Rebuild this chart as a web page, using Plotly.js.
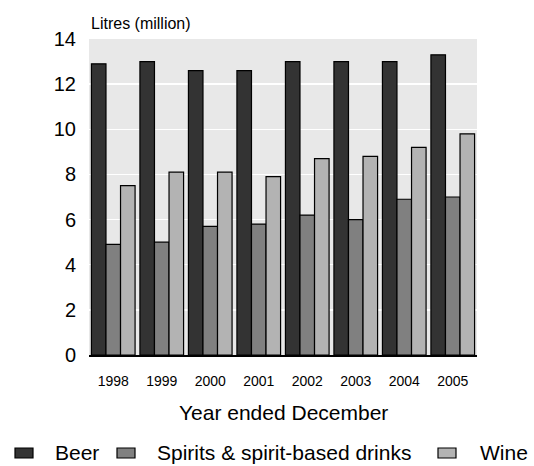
<!DOCTYPE html>
<html>
<head>
<meta charset="utf-8">
<script src="https://cdn.plot.ly/plotly-3.0.1.min.js"></script>
<style>html,body{margin:0;padding:0;background:#fff;}#chart{width:534px;height:466px;}</style>
</head>
<body>
<div id="chart"></div>
<script>
var years = ["1998", "1999", "2000", "2001", "2002", "2003", "2004", "2005"];
var beer = [12.9, 13.0, 12.6, 12.6, 13.0, 13.0, 13.0, 13.3];
var spirits = [4.9, 5.0, 5.7, 5.8, 6.2, 6.0, 6.9, 7.0];
var wine = [7.5, 8.1, 8.1, 7.9, 8.7, 8.8, 9.2, 9.8];
var seriesNames = ["Beer", "Spirits & spirit-based drinks", "Wine"];
var yTitle = "Litres (million)";
var xTitle = "Year ended December";

var colors = ["#333333", "#808080", "#b3b3b3"];
var vals = [beer, spirits, wine];
var traces = vals.map(function (v, i) {
  return {
    type: "bar", x: years, y: v, name: seriesNames[i],
    marker: {color: colors[i], line: {color: "#000", width: 1.2}}
  };
});

var W = 534, H = 466, M = {l: 89, r: 57, t: 39, b: 111};
var pw = W - M.l - M.r, ph = H - M.t - M.b;
function px2x(px) { return (px - M.l) / pw; }
function px2y(py) { return (H - M.b - py) / ph; }

var font = "Liberation Sans, Arial, sans-serif";

// manual legend (entries keyed to the series)
var legendSymX = [15, 117, 438];
var legendTextX = [53, 155, 478];
var legendY = 453;
var shapes = [], annotations = [];
seriesNames.forEach(function (name, i) {
  shapes.push({type: "rect", xref: "paper", yref: "paper",
    x0: px2x(legendSymX[i]), x1: px2x(legendSymX[i] + 18),
    y0: px2y(legendY - 5), y1: px2y(legendY + 5),
    fillcolor: colors[i], line: {color: "#000", width: 1.2}});
  annotations.push({text: name, xref: "paper", yref: "paper", x: px2x(legendTextX[i]), y: px2y(legendY),
    xanchor: "left", yanchor: "middle", showarrow: false, font: {size: 21}});
});
annotations.push({text: yTitle, xref: "paper", yref: "paper", x: 0, y: 1, xanchor: "left", yanchor: "bottom",
  yshift: 5, showarrow: false, font: {size: 16}});
annotations.push({text: xTitle, xref: "paper", yref: "paper", x: 0.5, y: px2y(412), xanchor: "center",
  yanchor: "middle", showarrow: false, font: {size: 21}});

var layout = {
  width: W, height: H,
  margin: M,
  paper_bgcolor: "#fff", plot_bgcolor: "#e8e8e8",
  font: {family: font, color: "#000", size: 14},
  barmode: "group", bargap: 0.1, bargroupgap: 0,
  showlegend: false,
  xaxis: {type: "category", showline: true, linecolor: "#000", linewidth: 2, ticks: "",
          tickfont: {size: 14}, ticklabelstandoff: 12, showgrid: false},
  yaxis: {range: [0, 14], dtick: 2, gridcolor: "#fff", gridwidth: 1.5, zeroline: false,
          showline: false, ticks: "", tickfont: {size: 20}, ticklabelstandoff: 12},
  shapes: shapes,
  annotations: annotations
};
Plotly.newPlot("chart", traces, layout, {displayModeBar: false, staticPlot: true});
</script>
</body>
</html>
